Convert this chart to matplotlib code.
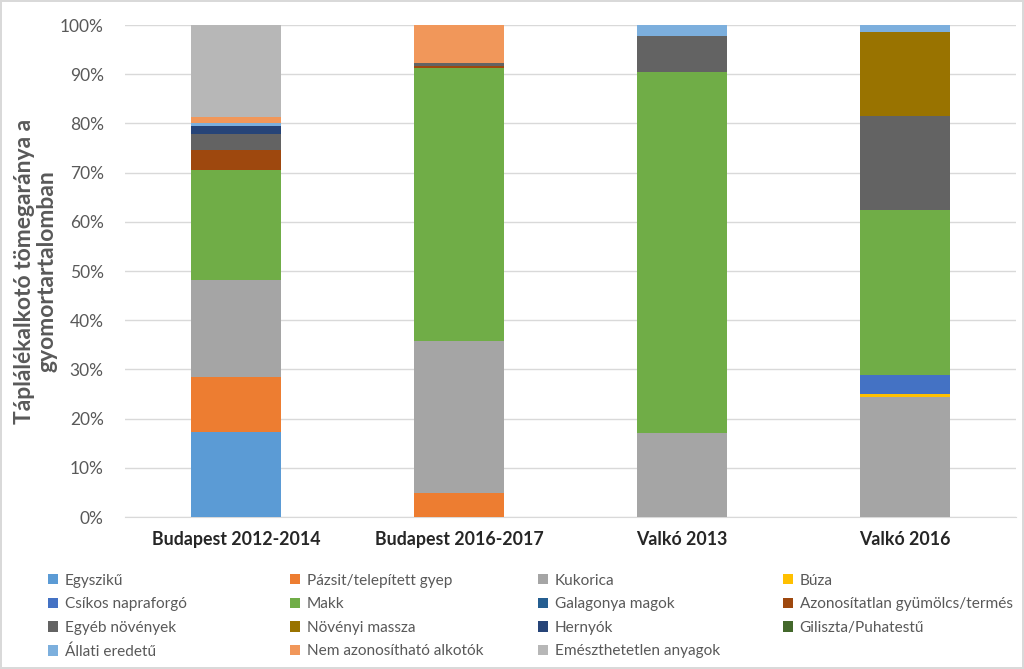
import matplotlib.pyplot as plt
import numpy as np
from matplotlib.patches import Patch

plt.rcParams['font.family'] = ['Lato', 'DejaVu Sans']

sites = ['Budapest 2012-2014', 'Budapest 2016-2017', 'Valkó 2013', 'Valkó 2016']

categories = ['Egyszikű', 'Pázsit/telepített gyep', 'Kukorica', 'Búza',
              'Csíkos napraforgó', 'Makk', 'Galagonya magok',
              'Azonosítatlan gyümölcs/termés', 'Egyéb növények', 'Növényi massza',
              'Hernyók', 'Giliszta/Puhatestű', 'Állati eredetű',
              'Nem azonosítható alkotók', 'Emészthetetlen anyagok']

# percentages per site, in the order of `categories`
egyszikű = [17.3, 0, 0, 0]
pazsit = [11.1, 4.8, 0, 0]
kukorica = [19.8, 31.0, 17.0, 24.3]
buza = [0, 0, 0, 0.6]
csikos = [0, 0, 0, 4.0]
makk = [22.3, 55.4, 73.5, 33.4]
galagonya = [0, 0, 0, 0]
azonositatlan = [4.1, 0.5, 0, 0]
egyeb = [3.2, 0.6, 7.3, 19.2]
novenyi = [0, 0, 0, 17.1]
hernyok = [1.6, 0, 0, 0]
giliszta = [0, 0, 0, 0]
allati = [0.7, 0, 2.2, 1.4]
nem_azon = [1.2, 7.7, 0, 0]
emeszthetetlen = [18.7, 0, 0, 0]

series = [egyszikű, pazsit, kukorica, buza, csikos, makk, galagonya,
          azonositatlan, egyeb, novenyi, hernyok, giliszta, allati,
          nem_azon, emeszthetetlen]

colours = ['#5B9BD5', '#ED7D31', '#A5A5A5', '#FFC000', '#4472C4', '#70AD47',
           '#255E91', '#9E480E', '#636363', '#997300', '#264478', '#43682B',
           '#7CAFDD', '#F1975A', '#B7B7B7']

fig = plt.figure(figsize=(10.24, 6.69), dpi=100)
fig.patch.set_edgecolor('#D9D9D9')
fig.patch.set_linewidth(1.5)
ax = fig.add_axes([0.1216, 0.2272, 0.871, 0.7354])

x = np.arange(len(sites))
bottom = np.zeros(len(sites))
for name, vals, col in zip(categories, series, colours):
    vals = np.array(vals)
    ax.bar(x, vals, 0.4, bottom=bottom, color=col, label=name, zorder=3)
    bottom += vals

ax.set_xlim(-0.5, len(sites) - 0.5)
ax.set_ylim(0, 100)
ax.set_yticks(np.arange(0, 101, 10))
ax.set_yticklabels([f'{v}%' for v in range(0, 101, 10)], fontsize=12.5, color='#595959')
ax.set_xticks(x)
ax.set_xticklabels(sites, fontsize=12.8, fontweight='bold', color='#262626')
ax.tick_params(axis='both', length=0)
ax.tick_params(axis='x', pad=10)
ax.tick_params(axis='y', pad=15)
ax.grid(axis='y', color='#D9D9D9', linewidth=1, zorder=0)
for s in ['top', 'right', 'left']:
    ax.spines[s].set_visible(False)
ax.spines['bottom'].set_color('#D9D9D9')

ax.set_ylabel('Táplálékalkotó tömegaránya a\ngyomortartalomban', fontsize=16.5,
              fontweight='bold', color='#595959', linespacing=1.1)
ax.yaxis.set_label_coords(-0.075, 0.5)

# legend: four single-column legends placed like the original row-wise layout
col_x = [40, 282, 530, 775]
for c in range(4):
    idx = list(range(c, len(categories), 4))
    handles = [Patch(facecolor=colours[i]) for i in idx]
    labels = [categories[i] for i in idx]
    fig.legend(handles, labels, loc='upper left',
               bbox_to_anchor=(col_x[c] / 1024, 1 - 566 / 669),
               frameon=False, fontsize=11.1, handlelength=0.65, handleheight=0.65,
               handletextpad=0.45, labelspacing=0.62, borderpad=0,
               labelcolor='#595959')

fig.savefig('out.png', dpi=100)
